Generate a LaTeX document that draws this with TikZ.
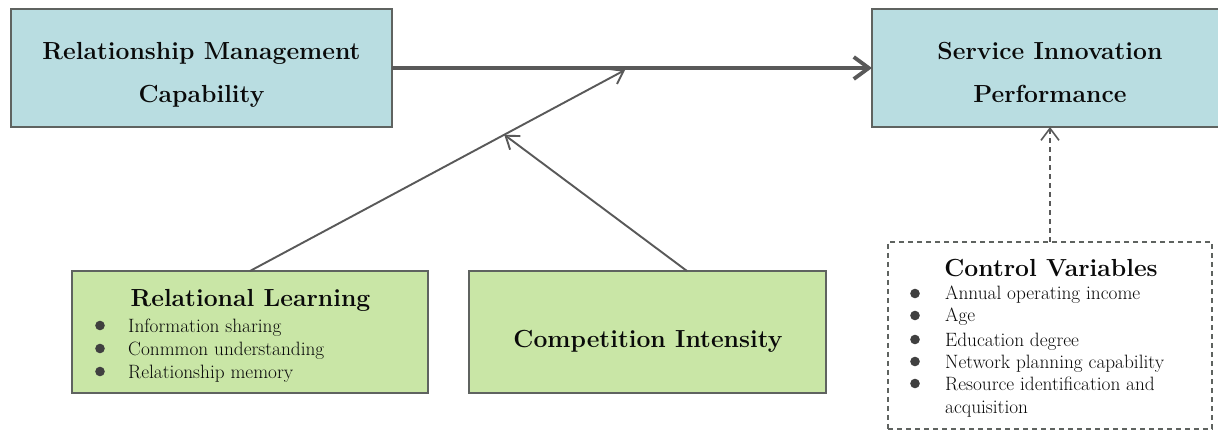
\documentclass[tikz,border=0pt]{standalone}
\usepackage{fontspec}
\usetikzlibrary{arrows.meta,calc}
\definecolor{bluefill}{HTML}{B9DDE1}
\definecolor{greenfill}{HTML}{C9E6A6}
\definecolor{edgec}{HTML}{5F6360}
\definecolor{arrowc}{HTML}{595959}
\definecolor{bulletc}{HTML}{404040}
\definecolor{textc}{HTML}{0A0A0A}
\begin{document}
\begin{tikzpicture}[x=1pt,y=-1pt,
  box/.style={draw=edgec, line width=1.8pt, inner sep=0pt, outer sep=0pt},
  bluebox/.style={box, fill=bluefill},
  greenbox/.style={box, fill=greenfill},
  cvbox/.style={draw=edgec, line width=1.6pt, dash pattern=on 5pt off 4pt, fill=white, inner sep=0pt, outer sep=0pt},
  title/.style={font=\fontsize{24.7}{30}\selectfont\bfseries, text=textc, anchor=base, inner sep=0pt},
  item/.style={font=\fontsize{19.3}{23}\selectfont, text=textc, anchor=base west, inner sep=0pt},
  mainarrow/.style={draw=arrowc, line width=3.8pt, -{Straight Barb[length=15pt,width=22pt]}},
  thinarrow/.style={draw=arrowc, line width=1.9pt, -{Straight Barb[length=12pt,width=17pt]}},
  dasharrow/.style={draw=arrowc, line width=1.6pt, dash pattern=on 5pt off 4pt, -{Straight Barb[length=12pt,width=18pt,line width=1.6pt]}},
]
\clip (0,0) rectangle (1218,430);
\fill[white] (0,0) rectangle (1218,430);

% boxes
\node[bluebox, minimum width=381pt, minimum height=118pt] (RMC) at (201.5,68) {};
\node[bluebox, minimum width=356pt, minimum height=118pt] (SIP) at (1050,68) {};
\node[greenbox, minimum width=356pt, minimum height=122pt] (RL) at (250,332) {};
\node[greenbox, minimum width=357pt, minimum height=122pt] (CI) at (647.5,332) {};
\node[cvbox, minimum width=324pt, minimum height=187pt] (CV) at (1050,335.5) {};

% titles
\node[title] (rmc1) at (201.5,60) {Relationship Management};
\node[title] (rmc2) at (201.5,103) {Capability};
\node[title] (sip1) at (1050,60) {Service Innovation};
\node[title] (sip2) at (1050,103) {Performance};
\node[title] (rlt) at (250.5,307) {Relational Learning};
\node[title] (cit) at (648,348) {Competition Intensity};
\node[title] (cvt) at (1051,277) {Control Variables};

% relational learning items
\foreach \y/\t [count=\i] in {332/Information sharing, 355/Conmmon understanding, 378/Relationship memory} {
  \fill[bulletc] (100,\y-6.5) circle (4.8pt);
  \node[item] (rli\i) at (128,\y) {\t};
}
% control variable items
\foreach \y/\t [count=\i] in {300/Annual operating income, 322/Age, 346/Education degree, 368/Network planning capability, 390/Resource identification and} {
  \fill[bulletc] (915,\y-6.5) circle (4.8pt);
  \node[item] (cvi\i) at (945,\y) {\t};
}
\node[item] (cvi6) at (945,413) {acquisition};

% connectors
\coordinate (m1) at (625,70);
\coordinate (m2) at ($(RL.north)!0.678!(m1)$);
\draw[mainarrow] (RMC.east) -- (SIP.west);
\draw[thinarrow] (RL.north) -- (m1);
\draw[thinarrow] ([xshift=39.5pt]CI.north) -- (m2);
\draw[dasharrow] (CV.north) -- (SIP.south);
\end{tikzpicture}
\end{document}
